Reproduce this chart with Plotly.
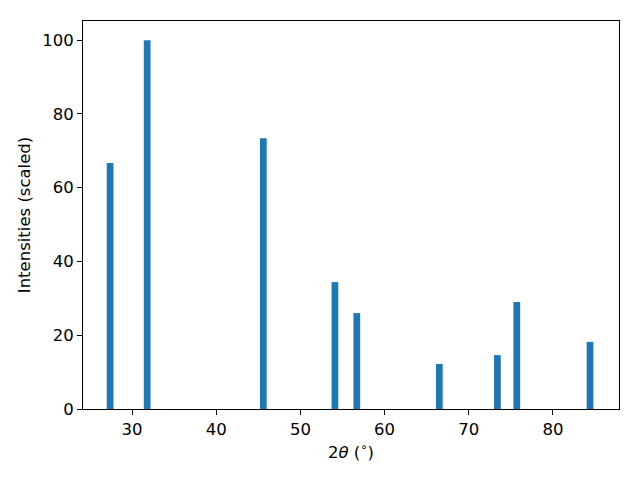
import plotly.graph_objects as go

two_theta = [27.4, 31.8, 45.6, 54.1, 56.7, 66.5, 73.4, 75.7, 84.4]
intensity = [66.7, 100.0, 73.4, 34.4, 26.0, 12.2, 14.6, 29.0, 18.2]
x_ticks = [30, 40, 50, 60, 70, 80]
y_ticks = [0, 20, 40, 60, 80, 100]

fig = go.Figure(go.Bar(x=two_theta, y=intensity, width=0.8,
                       marker=dict(color="#1f77b4", line=dict(width=0))))

font = dict(family="DejaVu Sans", size=16.5, color="black")
axis_common = dict(showline=True, linecolor="black", linewidth=1, mirror=True,
                   ticks="outside", ticklen=5, tickcolor="black", tickwidth=1,
                   showgrid=False, zeroline=False, tickfont=font)
fig.update_layout(
    width=640, height=480,
    margin=dict(l=75, r=29, t=13, b=79),
    paper_bgcolor="white", plot_bgcolor="white",
    font=font, showlegend=False,
    xaxis=dict(range=[24.18, 87.84], tickvals=x_ticks,
               title=dict(text="2<i>θ</i> (<sup>∘</sup>)", font=font, standoff=8), **axis_common),
    yaxis=dict(range=[0, 105.2], tickvals=y_ticks,
               title=dict(text="Intensities (scaled)", font=font, standoff=7), **axis_common),
)
fig.write_html("out.html")
